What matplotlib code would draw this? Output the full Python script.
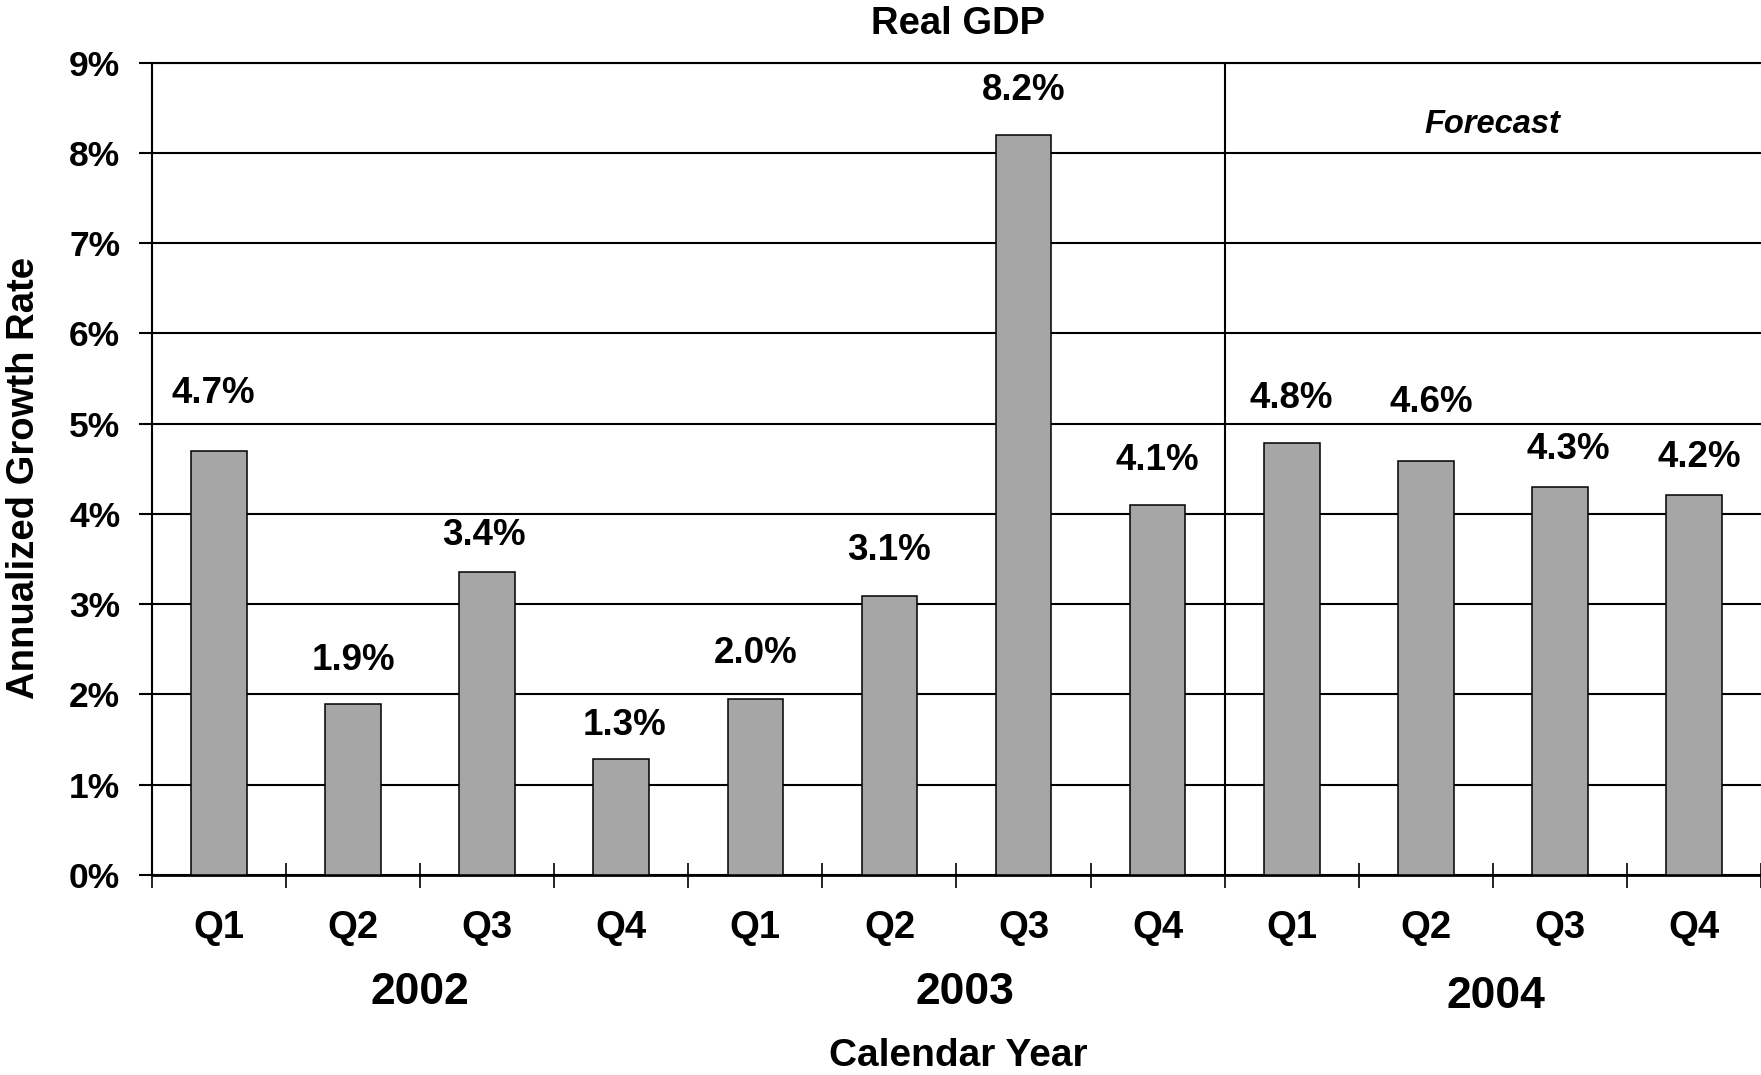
import matplotlib
matplotlib.use("Agg")
import matplotlib.pyplot as plt
import matplotlib.transforms as mtransforms
import numpy as np

# ---- data ----
quarters = ["Q1", "Q2", "Q3", "Q4", "Q1", "Q2", "Q3", "Q4", "Q1", "Q2", "Q3", "Q4"]
years = ["2002", "2003", "2004"]
growth = [4.7, 1.89, 3.36, 1.29, 1.95, 3.09, 8.2, 4.1, 4.79, 4.59, 4.3, 4.21]
value_labels = ["4.7%", "1.9%", "3.4%", "1.3%", "2.0%", "3.1%", "8.2%", "4.1%",
                "4.8%", "4.6%", "4.3%", "4.2%"]
yticks = [0, 1, 2, 3, 4, 5, 6, 7, 8, 9]
ytick_labels = ["0%", "1%", "2%", "3%", "4%", "5%", "6%", "7%", "8%", "9%"]

# label placement nudges (styling only)
label_dy = [0.64, 0.49, 0.40, 0.37, 0.50, 0.50, 0.49, 0.49, 0.49, 0.64, 0.41, 0.42]
label_dx = [-0.04, 0.0, -0.025, 0.025, 0.0, 0.0, 0.0, 0.0, 0.0, 0.04, 0.065, 0.04]
year_dx = [0.0, 0.06, 0.02]
year_y = [993, 992, 997]

plt.rcParams['font.family'] = ['Liberation Sans', 'DejaVu Sans']
plt.rcParams['font.weight'] = 'bold'

fig = plt.figure(figsize=(17.61, 10.75), dpi=100)
ax = fig.add_axes([0.0863, 0.18605, 1.0 - 0.0863, 0.9417 - 0.18605])

x = np.arange(len(growth)) + 0.5
ax.bar(x, growth, width=0.415, color="#a6a6a6", edgecolor="black",
       linewidth=1.1, zorder=3)

for xi, v, lab, dx, dy in zip(x, growth, value_labels, label_dx, label_dy):
    ax.text(xi + dx, v + dy, lab, ha="center", va="center", fontsize=26.5,
            fontweight="bold", zorder=4)

ax.set_xlim(0, 12)
ax.set_ylim(0, 9)
ax.set_yticks(yticks)
ax.set_yticklabels(ytick_labels, fontsize=25.5, fontweight="bold")
ax.yaxis.grid(True, color="black", linewidth=1.5, zorder=0)
ax.set_axisbelow(True)

ax.set_xticks(x)
ax.set_xticklabels(quarters, fontsize=27.5, fontweight="bold")
ax.set_xticks(np.arange(0, 13), minor=True)
ax.tick_params(axis="x", which="major", length=0, pad=25)
ax.tick_params(axis="x", which="minor", direction="inout", length=18,
               width=1.2, color="black")
ax.tick_params(axis="y", which="major", direction="out", length=9.4,
               width=1.5, pad=13.5)

ax.spines["right"].set_visible(False)
ax.spines["top"].set_linewidth(1.5)
ax.spines["left"].set_linewidth(1.5)
ax.spines["bottom"].set_linewidth(2.0)

ax.axvline(8, color="black", linewidth=1.5, zorder=2)
ax.text(10, 8.32, "Forecast", ha="center", va="center", fontsize=23.5,
        fontweight="bold", style="italic")

# year group labels: x in data coords, y in figure coords
blend = mtransforms.blended_transform_factory(ax.transData, fig.transFigure)
for i, (yr, dx, yy) in enumerate(zip(years, year_dx, year_y)):
    ax.text(2 + 4 * i + dx, 1 - yy / 1075, yr, transform=blend,
            ha="center", va="center", fontsize=32, fontweight="bold")

fig.text(0.544, 1 - 23.5 / 1075, "Real GDP", ha="center", va="center",
         fontsize=27.5, fontweight="bold")
fig.text(0.544, 1 - 1056.5 / 1075, "Calendar Year", ha="center", va="center",
         fontsize=28, fontweight="bold")
fig.text(24.5 / 1761, 1 - 478 / 1075, "Annualized Growth Rate", ha="center",
         va="center", rotation=90, fontsize=27.5, fontweight="bold")

fig.savefig("out.png", dpi=100)
